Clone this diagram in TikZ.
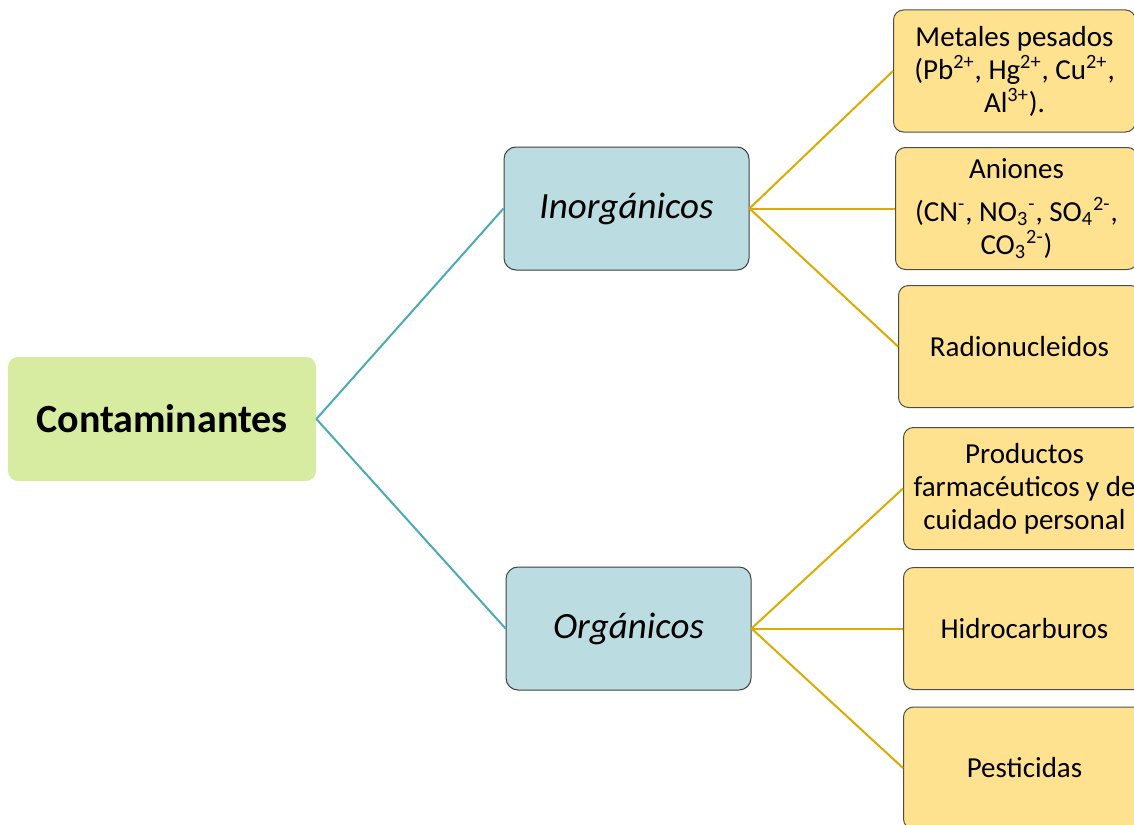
\documentclass[tikz,border=0pt]{standalone}
\usepackage{fontspec}
\setmainfont{Carlito}
\usetikzlibrary{positioning}
\definecolor{rootgreen}{HTML}{D7ECA1}
\definecolor{midblue}{HTML}{BBDDE1}
\definecolor{leafyellow}{HTML}{FFE28F}
\definecolor{tealline}{HTML}{4AABB5}
\definecolor{goldline}{HTML}{DDAB00}

\begin{document}
\begin{tikzpicture}[x=0.5pt, y=-0.5pt,
		rootbox/.style={rounded corners=5pt, fill=rootgreen, minimum width=154pt, minimum height=62pt,
			font=\fontsize{20}{24}\selectfont\bfseries},
		midbox/.style={rounded corners=6pt, draw=black!75, fill=midblue, line width=0.5pt,
			minimum width=122.5pt, minimum height=61.5pt, font=\fontsize{18.5}{22}\selectfont\itshape},
		leafbox/.style={rounded corners=5pt, draw=black!70, fill=leafyellow, line width=0.5pt,
			minimum width=121pt, minimum height=61pt, inner sep=3pt, align=center, anchor=west,
			font=\fontsize{14.5}{16.5}\selectfont},
		tealedge/.style={tealline, line width=1pt},
		goldedge/.style={goldline, line width=1pt}]
		%\draw [thin, help lines] (0,0) grid (1134,824);
		\useasboundingbox (0,0) rectangle (1134,824);
		\clip (0,0) rectangle (1134,824);
		\node[rootbox] (root) at (162,419) {Contaminantes};
		\node[midbox] (inorg) at (626.5,208.5) {Inorgánicos};
		\node[midbox] (org) at (628.5,628.5) {Orgánicos};
		\node[leafbox] (metales) at (893,71) {Metales pesados\\(Pb\textsuperscript{2+}, Hg\textsuperscript{2+}, Cu\textsuperscript{2+},\\Al\textsuperscript{3+}).};
		\node[leafbox] (aniones) at (895,208.5) {Aniones\\[5pt](CN\textsuperscript{-}, NO\textsubscript{3}\textsuperscript{-}, SO\textsubscript{4}\textsuperscript{2-},\\CO\textsubscript{3}\textsuperscript{2-})};
		\node[leafbox] (radio) at (898,346.5) {Radionucleidos};
		\node[leafbox] (productos) at (903,488.5) {Productos\\farmacéuticos y de\\cuidado personal};
		\node[leafbox] (hidro) at (903,628.5) {Hidrocarburos};
		\node[leafbox] (pesti) at (903,768) {Pesticidas};
		\draw[tealedge] (root.east) -- (inorg.west);
		\draw[tealedge] (root.east) -- (org.west);
		\draw[goldedge] (inorg.east) -- (metales.west);
		\draw[goldedge] (inorg.east) -- (aniones.west);
		\draw[goldedge] (inorg.east) -- (radio.west);
		\draw[goldedge] (org.east) -- (productos.west);
		\draw[goldedge] (org.east) -- (hidro.west);
		\draw[goldedge] (org.east) -- (pesti.west);
	\end{tikzpicture}
\end{document}
